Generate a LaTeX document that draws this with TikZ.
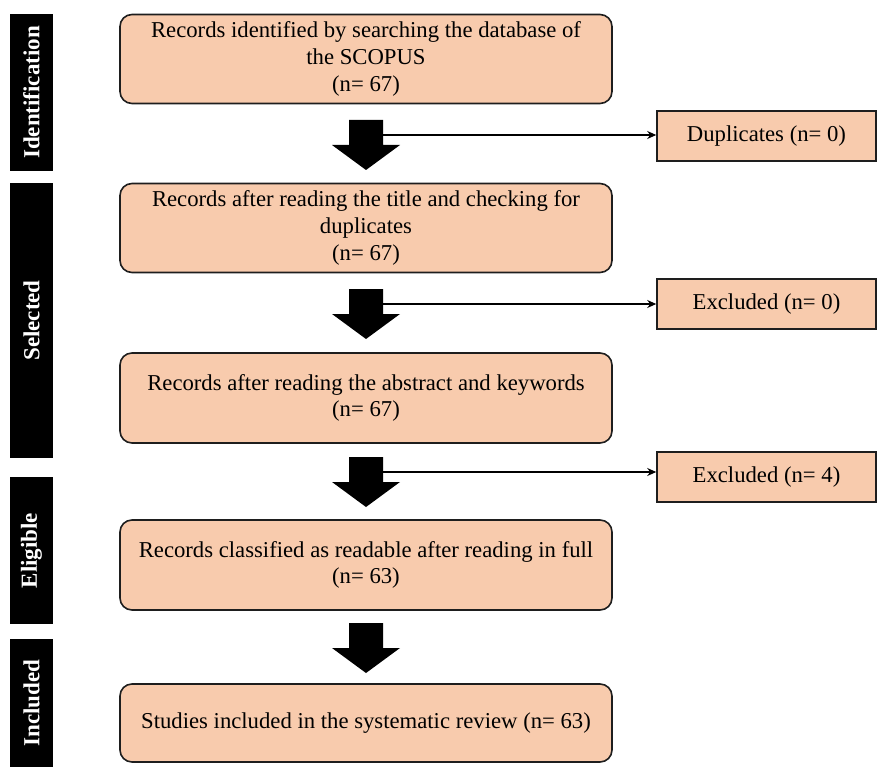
\documentclass[tikz,border=0pt]{standalone}
\usepackage{fontspec}
\setmainfont{Liberation Serif}
\usetikzlibrary{arrows.meta}
\definecolor{peach}{HTML}{F8CBAD}
\definecolor{edge}{HTML}{1E1E1E}
\begin{document}
\begin{tikzpicture}[x=1pt,y=-1pt,
  mainbox/.style={draw=edge, line width=1.6pt, fill=peach, rounded corners=12pt,
    minimum width=492pt, align=center, inner sep=0pt,
    font=\fontsize{22.7}{26.8}\selectfont},
  sidebox/.style={draw=edge, line width=1.6pt, fill=peach,
    minimum width=219pt, minimum height=50pt, inner sep=0pt,
    font=\fontsize{22.7}{26.8}\selectfont},
  sidebar/.style={fill=black, text=white, rotate=90, minimum width=#1, minimum height=43pt,
    inner sep=0pt, font=\fontsize{23}{26}\selectfont\bfseries},
  link/.style={draw=black, line width=2pt, -{Stealth[length=9pt,width=8pt]}},
  downarrow/.pic={
    \fill[black] (-17,0) -- (17,0) -- (17,25) -- (34,25) -- (0,50) -- (-34,25) -- (-17,25) -- cycle;
    \coordinate (-r) at (17,15);
  }]
\useasboundingbox (0,0) rectangle (877,767);

% stage bars
\node[sidebar=157pt] (sid) at (31.5,92.5) {Identification};
\node[sidebar=275pt] (ssel) at (31.5,320.5) {Selected};
\node[sidebar=147pt] (selig) at (31.5,550.5) {Eligible};
\node[sidebar=128pt] (sinc) at (31.5,703) {Included};

% main boxes
\node[mainbox, minimum height=89pt] (b1) at (366,59)
  {Records identified by searching the database of\\the SCOPUS\\(n= 67)};
\node[mainbox, minimum height=89pt] (b2) at (366,228)
  {Records after reading the title and checking for\\duplicates\\(n= 67)};
\node[mainbox, minimum height=90pt] (b3) at (366,398)
  {Records after reading the abstract and keywords\\(n= 67)};
\node[mainbox, minimum height=90pt] (b4) at (366,565)
  {Records classified as readable after reading in full\\(n= 63)};
\node[mainbox, minimum height=78pt] (b5) at (366,723)
  {Studies included in the systematic review (n= 63)};

% side boxes
\node[sidebox] (dup) at (766.5,136) {Duplicates (n= 0)};
\node[sidebox] (ex1) at (766.5,304) {Excluded (n= 0)};
\node[sidebox] (ex2) at (766.5,477) {Excluded (n= 4)};

% block arrows
\pic (a1) at (366,120) {downarrow};
\pic (a2) at (366,289) {downarrow};
\pic (a3) at (366,457) {downarrow};
\pic (a4) at (366,623) {downarrow};

% side connectors
\draw[link] (a1-r) -- (a1-r -| dup.west);
\draw[link] (a2-r) -- (a2-r -| ex1.west);
\draw[link] (a3-r) -- (a3-r -| ex2.west);
\end{tikzpicture}
\end{document}
